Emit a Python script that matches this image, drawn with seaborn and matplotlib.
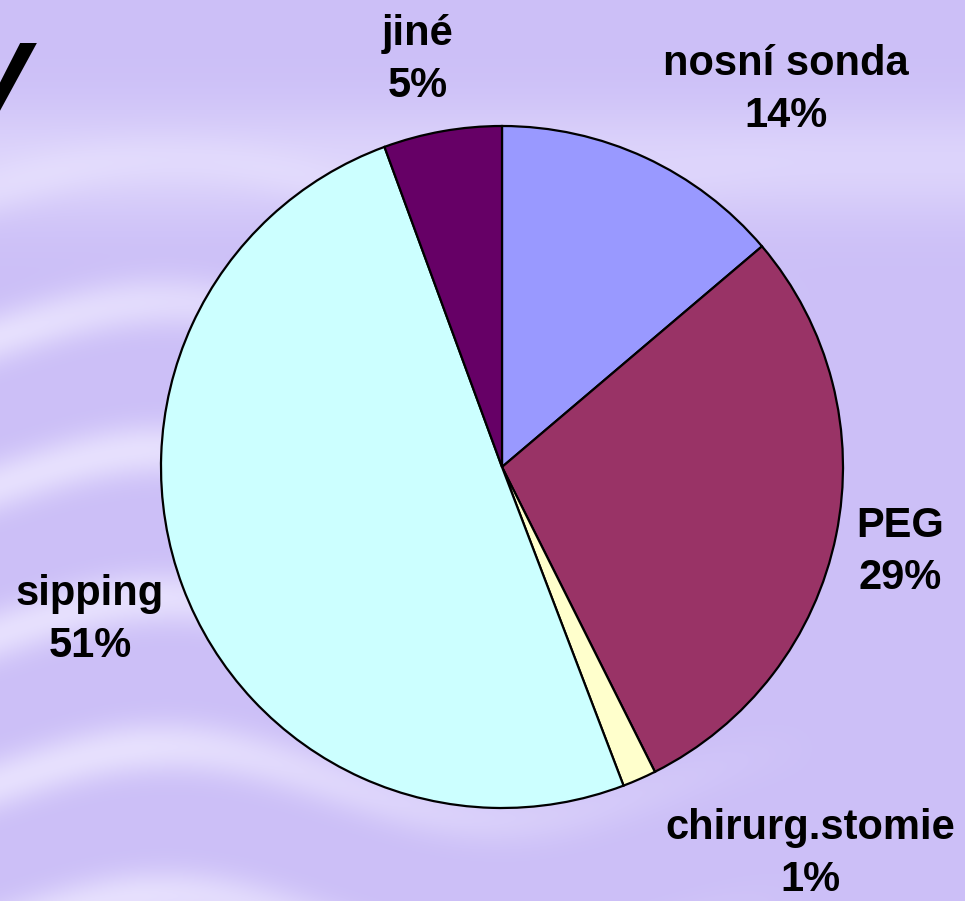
import matplotlib
matplotlib.use("Agg")
import matplotlib.pyplot as plt
import numpy as np
import seaborn as sns

# Data (clockwise from 12 o'clock)
categories = ["nosní sonda", "PEG", "chirurg.stomie", "sipping", "jiné"]
shares = [13.8, 28.8, 1.6, 50.2, 5.6]
pct_labels = ["14%", "29%", "1%", "51%", "5%"]
colors = ["#9999FF", "#993366", "#FFFFCC", "#CCFFFF", "#660066"]

# label block centres in pixels (x, y from top)
label_px = [(786, 90), (900, 552), (810, 854), (90, 620), (418, 60)]

sns.set_theme(style="white")
plt.rcParams["font.family"] = ["Liberation Sans", "DejaVu Sans"]

W, H = 965, 901
fig = plt.figure(figsize=(W / 100, H / 100), dpi=100)

# watery lavender background
bg = fig.add_axes([0, 0, 1, 1])
yy, xx = np.mgrid[0:H, 0:W] / np.array([H, W])[:, None, None]
base = np.array([0.80, 0.75, 0.97])
light = np.array([0.93, 0.91, 1.0])
streak = (np.sin(yy * 38 + np.sin(xx * 9) * 1.5) * 0.5 + 0.5) ** 3
streak *= np.clip(1.2 - xx * 1.4, 0, 1) * np.clip((yy - 0.12) * 4, 0, 1)
glow = np.exp(-((yy - 0.18) ** 2) / 0.004) * 0.5
mix = np.clip(streak * 0.8 + glow, 0, 1)[..., None]
img = base * (1 - mix) + light * mix
bg.imshow(img, aspect="auto", extent=[0, 1, 0, 1])
bg.set_axis_off()

# cut-off title glyph at top left
fig.text(-8 / W, 1 - 120 / H, "V", fontsize=80, fontweight="bold",
         fontstyle="italic", color="black", va="baseline", ha="center")

cx, cy, r = 502, 467, 341
ax = fig.add_axes([(cx - r) / W, (H - cy - r) / H, 2 * r / W, 2 * r / H])
ax.pie(shares, colors=colors, startangle=90, counterclock=False,
       radius=1, wedgeprops=dict(edgecolor="black", linewidth=1.6))
ax.set_xlim(-1, 1)
ax.set_ylim(-1, 1)
ax.set_axis_off()

for name, pct, (px, py) in zip(categories, pct_labels, label_px):
    fig.text(px / W, 1 - py / H, f"{name}\n{pct}", fontsize=30,
             fontweight="bold", ha="center", va="center",
             linespacing=1.4, color="black")

fig.savefig("out.png", dpi=100)
